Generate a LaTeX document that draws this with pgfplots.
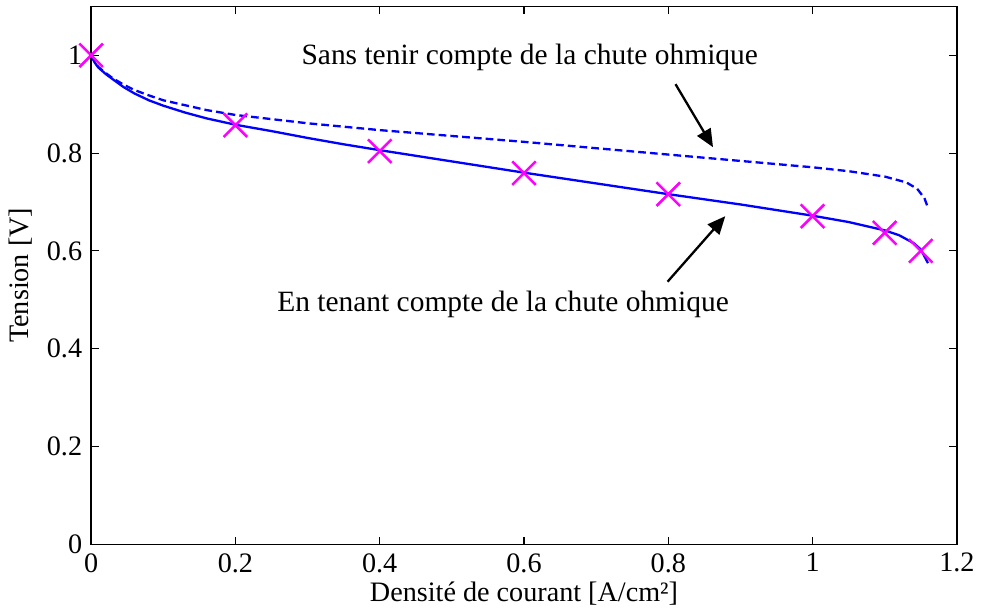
\documentclass[border=0pt]{standalone}
\usepackage{fontspec}
\setmainfont{Liberation Serif}
\usepackage{pgfplots}
\pgfplotsset{compat=1.18}
\usetikzlibrary{arrows.meta}
\definecolor{mag}{RGB}{255,0,255}

\begin{document}
\begin{tikzpicture}
  \begin{axis}[scale only axis, width=338pt, height=210pt,
      xmin=0, xmax=1.2, ymin=0, ymax=1.1,
      xtick={0,0.2,...,1.2}, ytick={0,0.2,...,1},
      tick align=inside, major tick length=3pt,
      tick style={black, line width=0.4pt},
      axis line style={line width=0.6pt},
      /pgf/number format/assume math mode=true,
      ticklabel style={font=\fontsize{11}{13}\selectfont},
      label style={font=\fontsize{11}{13}\selectfont},
      xlabel={Densité de courant [A/cm²]},
      ylabel={Tension [V]},
      xlabel style={yshift=3pt}, ylabel style={yshift=-1pt},
      clip=false]
    % avec chute ohmique
    \addplot[blue, line width=0.9pt] coordinates {
      (0,1) (0.005,0.985) (0.01,0.975) (0.02,0.962) (0.03,0.951)
      (0.045,0.935) (0.06,0.922) (0.08,0.908) (0.1,0.897) (0.13,0.883)
      (0.16,0.871) (0.2,0.858) (0.25,0.845) (0.3,0.831) (0.35,0.818)
      (0.4,0.806) (0.5,0.783) (0.6,0.760) (0.7,0.738) (0.8,0.716)
      (0.9,0.695) (1.0,0.672) (1.05,0.659) (1.1,0.642) (1.12,0.632)
      (1.14,0.616) (1.15,0.603) (1.16,0.575)};
    % sans chute ohmique
    \addplot[blue, line width=0.9pt, dash pattern=on 3pt off 1.6pt] coordinates {
      (0,1) (0.005,0.986) (0.01,0.976) (0.02,0.964) (0.03,0.953)
      (0.045,0.940) (0.06,0.929) (0.08,0.918) (0.1,0.908) (0.13,0.898)
      (0.16,0.888) (0.2,0.878) (0.3,0.861) (0.4,0.847) (0.5,0.835)
      (0.6,0.823) (0.7,0.810) (0.8,0.797) (0.9,0.784) (1.0,0.771)
      (1.05,0.763) (1.1,0.752) (1.13,0.740) (1.145,0.727) (1.155,0.708)
      (1.16,0.688)};
    % mesures
    \addplot[only marks, mark=x, mark size=6.5pt, mag,
      mark options={line width=1pt}] coordinates {
      (0,1) (0.2,0.857) (0.4,0.804) (0.6,0.759) (0.8,0.716)
      (1.0,0.671) (1.1,0.637) (1.15,0.600)};

    \node[font=\fontsize{11.5}{13}\selectfont] at (axis cs:0.608,0.996)
      {Sans tenir compte de la chute ohmique};
    \node[font=\fontsize{11.5}{13}\selectfont] at (axis cs:0.571,0.49)
      {En tenant compte de la chute ohmique};
    \draw[line width=0.9pt, -{Triangle[length=7pt, width=6pt]}]
      (axis cs:0.81,0.941) -- (axis cs:0.862,0.812);
    \draw[line width=0.9pt, -{Triangle[length=7pt, width=6pt]}]
      (axis cs:0.799,0.537) -- (axis cs:0.879,0.671);
  \end{axis}
  \path (0,212.5pt) (0,-26pt);
\end{tikzpicture}
\end{document}
